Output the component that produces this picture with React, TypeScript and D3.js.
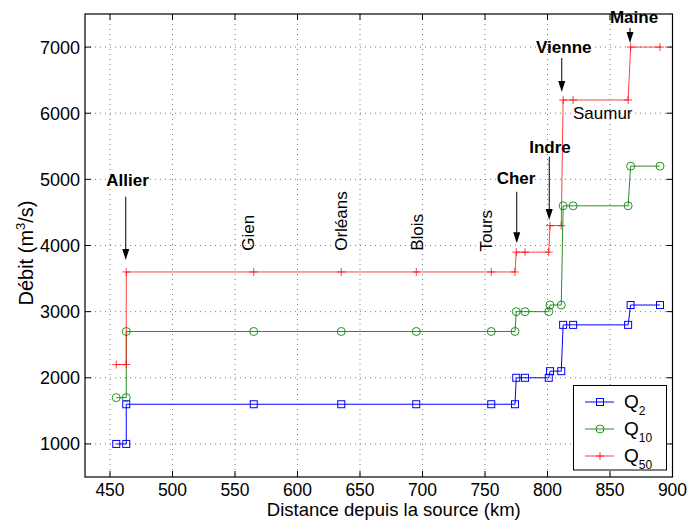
import React from "react";
import * as d3 from "d3";

const distances = [455, 463, 463, 565, 635, 695, 755, 774, 775, 782, 801, 802, 811, 812.5, 820.5, 864.5, 866.5, 890];
const q2 = [1000, 1000, 1600, 1600, 1600, 1600, 1600, 1600, 2000, 2000, 2000, 2100, 2100, 2800, 2800, 2800, 3100, 3100];
const q10 = [1700, 1700, 2700, 2700, 2700, 2700, 2700, 2700, 3000, 3000, 3000, 3100, 3100, 4600, 4600, 4600, 5200, 5200];
const q50 = [2200, 2200, 3600, 3600, 3600, 3600, 3600, 3600, 3900, 3900, 3900, 4300, 4300, 6200, 6200, 6200, 7000, 7000];

const xTicks = [450, 500, 550, 600, 650, 700, 750, 800, 850, 900];
const yTicks = [1000, 2000, 3000, 4000, 5000, 6000, 7000];

const cityNames = ["Gien", "Orléans", "Blois", "Tours"];
const cityKm = [565.2, 639.6, 700.4, 755.4];
const cityQ = [3920, 3920, 3920, 3910];

const tribNames = ["Allier", "Cher", "Indre", "Vienne", "Maine"];
const tribLabelKm = [464, 774.8, 802, 813, 869.2];
const tribLabelQ = [4900, 4930, 5403, 6915, 7359];
const tribArrowKm = [462.6, 775.4, 801.4, 811.4, 866];
const tribArrowFrom = [4738, 4813, 5343, 6835, 7288];
const tribArrowTo = [3781, 4033, 4385, 6322, 7062];

const extraLabel = "Saumur";
const extraKm = 820.4;
const extraQ = 5908;

const FONT = "'Liberation Sans', Arial, Helvetica, sans-serif";

const W = 688, H = 520;
const L = 85, R = 672.5, T = 14, B = 477;

function Marker({ kind, cx, cy, color }: { kind: string; cx: number; cy: number; color: string }) {
  if (kind === "square")
    return <rect x={cx - 3.5} y={cy - 3.5} width={7} height={7} fill="none" stroke={color} strokeWidth={1} />;
  if (kind === "circle") return <circle cx={cx} cy={cy} r={4} fill="none" stroke={color} strokeWidth={1} />;
  return (
    <g stroke={color} strokeWidth={1}>
      <line x1={cx - 4} x2={cx + 4} y1={cy} y2={cy} />
      <line x1={cx} x2={cx} y1={cy - 4} y2={cy + 4} />
    </g>
  );
}

export default function App() {
  const x = d3.scaleLinear().domain([430, 900]).range([L, R]);
  const y = d3.scaleLinear().domain([500, 7500]).range([B, T]);

  const series = [
    { name: "2", values: q2, color: "#0000ff", kind: "square", op: 1 },
    { name: "10", values: q10, color: "#008000", kind: "circle", op: 0.85 },
    { name: "50", values: q50, color: "#ff0000", kind: "plus", op: 0.75 },
  ];

  const line = d3
    .line<[number, number]>()
    .x((d) => x(d[0]))
    .y((d) => y(d[1]));

  const tickLen = 6;

  return (
    <svg width={W} height={H} style={{ position: "absolute", left: 0, top: 0, background: "#fff" }} fontFamily={FONT}>
      <rect x={0} y={0} width={W} height={H} fill="#fff" />
      {/* grid */}
      <g stroke="#777" strokeWidth={1} strokeDasharray="1,4">
        {xTicks.map((t) => (
          <line key={"gx" + t} x1={x(t)} x2={x(t)} y1={T} y2={B} />
        ))}
        {yTicks.map((t) => (
          <line key={"gy" + t} x1={L} x2={R} y1={y(t)} y2={y(t)} />
        ))}
      </g>

      {/* series */}
      {series.map((s) => {
        const pts: [number, number][] = distances.map((d, i) => [d, s.values[i]]);
        return (
          <g key={s.name} strokeOpacity={s.op}>
            <path d={line(pts) || ""} fill="none" stroke={s.color} strokeWidth={1} />
            {pts.map((p, i) => (
              <Marker key={i} kind={s.kind} cx={x(p[0])} cy={y(p[1])} color={s.color} />
            ))}
          </g>
        );
      })}

      {/* city labels */}
      {cityNames.map((n, i) => (
        <text
          key={n}
          transform={`translate(${x(cityKm[i])},${y(cityQ[i])}) rotate(-90)`}
          fontSize={17}
          fill="#000"
        >
          {n}
        </text>
      ))}
      <text x={x(extraKm)} y={y(extraQ)} fontSize={17} fill="#000">
        {extraLabel}
      </text>

      {/* tributaries */}
      {tribNames.map((n, i) => {
        const ax = x(tribArrowKm[i]);
        const y1 = y(tribArrowFrom[i]);
        const y2 = y(tribArrowTo[i]);
        return (
          <g key={n}>
            <text x={x(tribLabelKm[i])} y={y(tribLabelQ[i])} fontSize={17} fontWeight="bold" textAnchor="middle" fill="#000">
              {n}
            </text>
            <line x1={ax} x2={ax} y1={y1} y2={y2 - 9} stroke="#000" strokeWidth={1} />
            <path d={`M${ax - 3.5},${y2 - 11} L${ax + 3.5},${y2 - 11} L${ax},${y2} Z`} fill="#000" />
          </g>
        );
      })}

      {/* frame and ticks */}
      <g stroke="#000" strokeWidth={1}>
        {xTicks.map((t) => (
          <g key={"tx" + t}>
            <line x1={x(t)} x2={x(t)} y1={B} y2={B - tickLen} />
            <line x1={x(t)} x2={x(t)} y1={T} y2={T + tickLen} />
          </g>
        ))}
        {yTicks.map((t) => (
          <g key={"ty" + t}>
            <line x1={L} x2={L + tickLen} y1={y(t)} y2={y(t)} />
            <line x1={R} x2={R - tickLen} y1={y(t)} y2={y(t)} />
          </g>
        ))}
      </g>

      {/* legend */}
      <g>
        <rect x={573.5} y={385.5} width={93} height={84.5} fill="#fff" stroke="#000" strokeWidth={1} />
        {series.map((s, i) => {
          const ly = 402 + i * 27;
          return (
            <g key={"lg" + s.name}>
              <g strokeOpacity={s.op}>
                <line x1={585} x2={614} y1={ly} y2={ly} stroke={s.color} strokeWidth={1} />
                <Marker kind={s.kind} cx={600} cy={ly} color={s.color} />
              </g>
              <text x={624} y={ly + 6} fontSize={19} fill="#000">
                Q
                <tspan fontSize={12} dy={7}>
                  {s.name}
                </tspan>
              </text>
            </g>
          );
        })}
      </g>

      <rect x={L} y={T} width={R - L} height={B - T} fill="none" stroke="#000" strokeWidth={1.2} />

      {/* tick labels */}
      {xTicks.map((t) => (
        <text key={"lx" + t} x={x(t)} y={495.5} fontSize={17.5} textAnchor="middle" fill="#000">
          {t}
        </text>
      ))}
      {yTicks.map((t) => (
        <text key={"ly" + t} x={80} y={y(t) + 6.5} fontSize={18} textAnchor="end" fill="#000">
          {t}
        </text>
      ))}

      <text x={(L + R) / 2 + 15} y={516} fontSize={18.5} textAnchor="middle" fill="#000">
        Distance depuis la source (km)
      </text>
      <text transform={`translate(33,253) rotate(-90)`} fontSize={20} textAnchor="middle" fill="#000">
        Débit (m
        <tspan fontSize={13} dy={-8}>
          3
        </tspan>
        <tspan dy={8}>/s)</tspan>
      </text>
    </svg>
  );
}
